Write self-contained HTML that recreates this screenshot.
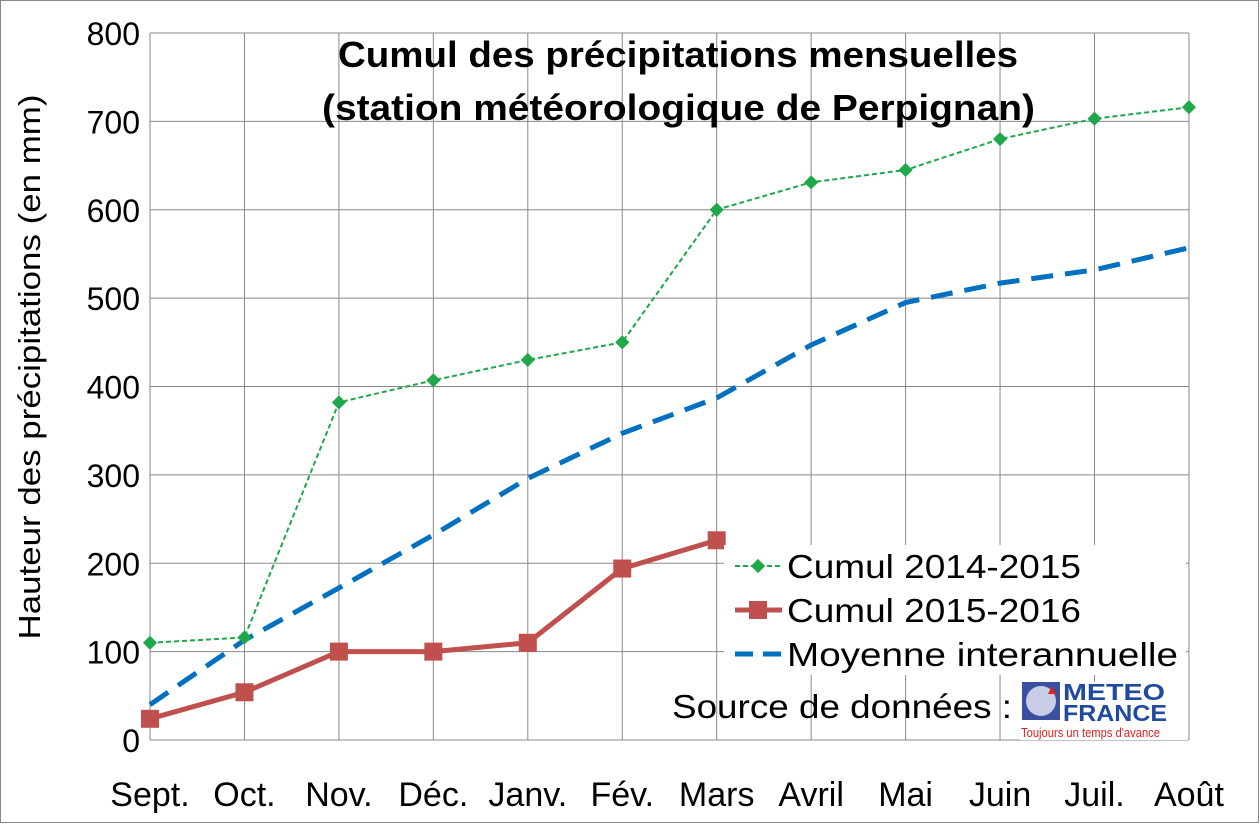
<!DOCTYPE html>
<html><head><meta charset="utf-8"><style>
body{margin:0;background:#fff;}
svg text{font-family:"Liberation Sans",Arial,sans-serif;}
</style></head><body>
<svg width="1260" height="824" xmlns="http://www.w3.org/2000/svg">
<rect x="0.5" y="0.5" width="1258" height="822" fill="#fff" stroke="#888"/>
<g id="grid"></g>
<g id="ticks"></g>
<text x="338" y="67" font-size="36" font-weight="bold" textLength="680" lengthAdjust="spacingAndGlyphs">Cumul des précipitations mensuelles</text>
<text x="322" y="120" font-size="36" font-weight="bold" textLength="713" lengthAdjust="spacingAndGlyphs">(station météorologique de Perpignan)</text>
<text transform="translate(40,367) rotate(-90)" text-anchor="middle" font-size="31" textLength="545" lengthAdjust="spacingAndGlyphs">Hauteur des précipitations (en mm)</text>
<g id="series"></g>
<g>
<rect x="724" y="545" width="462" height="130" fill="#fff"/>
<g><line x1="735" y1="566" x2="782" y2="566" stroke="#1ea84a" stroke-width="2" stroke-dasharray="5,3"/><rect x="753" y="561" width="10" height="10" fill="#1ea84a" transform="rotate(45 758 566)"/><text x="787" y="578" font-size="33" textLength="294" lengthAdjust="spacingAndGlyphs">Cumul 2014-2015</text></g>
<g><line x1="735" y1="610" x2="782" y2="610" stroke="#c0504d" stroke-width="5"/><rect x="749" y="601" width="18" height="18" fill="#c0504d"/><text x="787" y="622" font-size="33" textLength="294" lengthAdjust="spacingAndGlyphs">Cumul 2015-2016</text></g>
<g><line x1="735" y1="654" x2="782" y2="654" stroke="#0070c0" stroke-width="5" stroke-dasharray="18,10"/><text x="787" y="666" font-size="33" textLength="391" lengthAdjust="spacingAndGlyphs">Moyenne interannuelle</text></g>
</g>
<text x="672" y="718" font-size="33" textLength="340" lengthAdjust="spacingAndGlyphs">Source de données :</text>
<g>
<rect x="1020" y="682" width="168" height="58" fill="#fff"/>
<rect x="1022" y="682" width="38" height="38" fill="#3a4fa0"/>
<circle cx="1041" cy="701" r="15" fill="#c8cce6"/>
<polygon points="1052,686 1056,694 1048,694" fill="#e02020"/>
<text x="1063" y="700" font-size="23" font-weight="bold" fill="#1f4aa0" textLength="102" lengthAdjust="spacingAndGlyphs">METEO</text>
<text x="1063" y="721" font-size="23" font-weight="bold" fill="#1f4aa0" textLength="104" lengthAdjust="spacingAndGlyphs">FRANCE</text>
<text x="1021" y="737" font-size="13" fill="#e02020" textLength="139" lengthAdjust="spacingAndGlyphs">Toujours un temps d'avance</text>
</g>
<script>
const months=["Sept.","Oct.","Nov.","Déc.","Janv.","Fév.","Mars","Avril","Mai","Juin","Juil.","Août"];
const yTicks=[0,100,200,300,400,500,600,700,800];
const cumul1415=[110,116,382,407,430,450,600,631,645,680,703,716];
const cumul1516=[24,54,100,100,110,194,226];
const moyenne=[40,113,172,232,296,347,387,447,495,517,532,557];
const X=i=>150+i*94.45, Y=v=>740-v*0.88375;
const NS="http://www.w3.org/2000/svg";
function mk(p,t,a){const e=document.createElementNS(NS,t);for(const k in a)e.setAttribute(k,a[k]);p.appendChild(e);return e;}
const grid=document.getElementById('grid'),ticks=document.getElementById('ticks'),ser=document.getElementById('series');
yTicks.forEach(v=>{const l=mk(grid,'line',{x1:150,x2:1189,y1:Y(v),y2:Y(v),stroke:'#888','stroke-width':1});


const t=mk(ticks,'text',{x:140,y:Y(v)+12,'text-anchor':'end','font-size':32});t.textContent=v;

});
months.forEach((m,i)=>{const l=mk(grid,'line',{x1:X(i),x2:X(i),y1:Y(800),y2:Y(0),stroke:'#888','stroke-width':1});


const t=mk(ticks,'text',{x:X(i),y:806,'text-anchor':'middle','font-size':34});t.textContent=m;

});
const pts=a=>a.map((v,i)=>X(i)+','+Y(v)).join(' ');
const pb=mk(ser,'polyline',{points:pts(moyenne),fill:'none',stroke:'#0070c0','stroke-width':5,'stroke-dasharray':'22,12'});


const pg=mk(ser,'polyline',{points:pts(cumul1415),fill:'none',stroke:'#1ea84a','stroke-width':2,'stroke-dasharray':'5,3'});


cumul1415.forEach((v,i)=>{const r=mk(ser,'rect',{x:X(i)-5,y:Y(v)-5,width:10,height:10,fill:'#1ea84a',transform:`rotate(45 ${X(i)} ${Y(v)})`});

});
const pr=mk(ser,'polyline',{points:pts(cumul1516),fill:'none',stroke:'#c0504d','stroke-width':5});


cumul1516.forEach((v,i)=>{const r=mk(ser,'rect',{x:X(i)-9,y:Y(v)-9,width:18,height:18,fill:'#c0504d'});

});
</script>
</svg>
</body></html>
